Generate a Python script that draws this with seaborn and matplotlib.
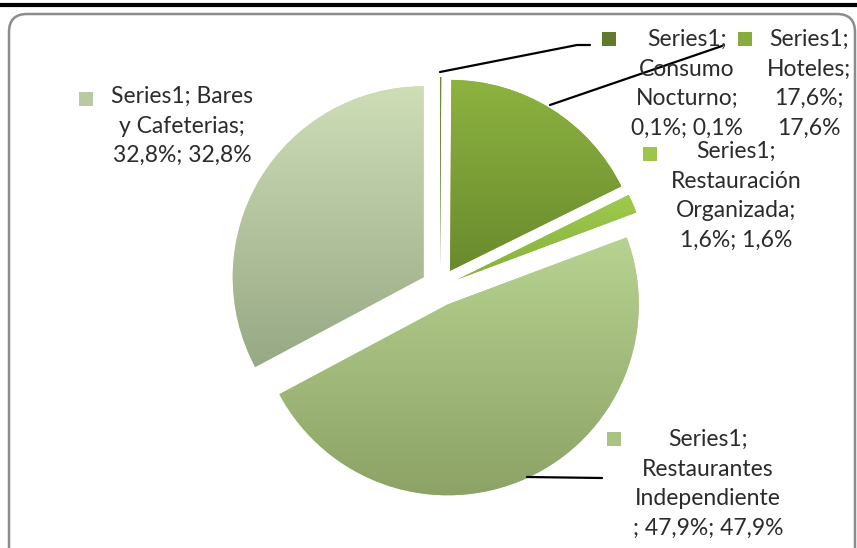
import numpy as np
import matplotlib
matplotlib.use("Agg")
import matplotlib.pyplot as plt
from matplotlib.colors import LinearSegmentedColormap
from matplotlib.patches import FancyBboxPatch
import seaborn as sns

sns.set_theme(style="white")
plt.rcParams['font.family'] = ['Lato', 'DejaVu Sans']

# ---- data ----
categories = ["Consumo Nocturno", "Hoteles", "Restauración Organizada",
              "Restaurantes Independiente", "Bares y Cafeterias"]
values = [0.1, 17.6, 1.6, 47.9, 32.8]
label_texts = [
    "Series1;\nConsumo\nNocturno;\n0,1%; 0,1%",
    "Series1;\nHoteles;\n17,6%;\n17,6%",
    "Series1;\nRestauración\nOrganizada;\n1,6%; 1,6%",
    "Series1;\nRestaurantes\nIndependiente\n; 47,9%; 47,9%",
    "Series1; Bares\ny Cafeterias;\n32,8%; 32,8%",
]
top_colors = ["#6f8f34", "#8db33f", "#9fcb4e", "#b8d391", "#cfdeb7"]
bot_colors = ["#5f7a2b", "#698a2d", "#86b03c", "#8ca266", "#96a884"]

W, H = 857, 548
fig = plt.figure(figsize=(W / 100, H / 100), dpi=100)
ax = fig.add_axes([0, 0, 1, 1])

center = (440, H - 287)
radius = 191
wedges, _ = ax.pie(values, startangle=90, counterclock=False,
                   explode=[19] * len(values), center=center, radius=radius,
                   colors=top_colors, wedgeprops=dict(linewidth=0))

# gradient fill per wedge
for w, c1, c2 in zip(wedges, top_colors, bot_colors):
    bb = w.get_path().get_extents(w.get_patch_transform())
    cmap = LinearSegmentedColormap.from_list("g", [c2, c1])
    grad = np.linspace(0, 1, 256).reshape(-1, 1)
    im = ax.imshow(grad, cmap=cmap, origin='lower', aspect='auto',
                   extent=[bb.x0 - 2, bb.x1 + 2, bb.y0 - 2, bb.y1 + 2],
                   zorder=2, interpolation='bilinear')
    im.set_clip_path(w)
ax.set_xlim(0, W)
ax.set_ylim(0, H)
ax.set_aspect('equal')
ax.axis('off')

def Y(y):
    return H - y

# labels (text blocks + legend keys)
label_pos = [(687, 40), (809, 40), (736, 152), (708, 440), (182, 97)]
marker_pos = [(609, 37), (745, 37), (650, 152), (614, 437), (86, 97)]
marker_cols = ["#62792e", "#86ac3c", "#9bc64a", "#a9c382", "#b9c9a2"]
for txt, (lx, ly), (mx, my), mc in zip(label_texts, label_pos, marker_pos, marker_cols):
    ax.text(lx, Y(ly) + 11, txt, ha='center', va='top', fontsize=16.5,
            color='#2b2b2b', linespacing=1.51, zorder=5)
    ax.scatter([mx], [Y(my) - 2], marker='s', s=90, color=mc, zorder=6,
               linewidths=0)

# leader lines
ax.plot([440, 577, 590], [Y(72), Y(45), Y(45)], color='black', lw=1.6, zorder=4)
ax.plot([550, 722], [Y(105), Y(46)], color='black', lw=1.6, zorder=4)
ax.plot([527, 602], [Y(477), Y(478)], color='black', lw=1.6, zorder=4)

# top black rule and rounded chart border
fig.add_artist(plt.Line2D([0, 1], [1 - 4.5 / H, 1 - 4.5 / H],
                          transform=fig.transFigure, color='black', lw=3))
border = FancyBboxPatch((9, -20), 846, H - 14 + 20,
                        boxstyle="round,pad=0,rounding_size=18",
                        fill=False, edgecolor='#8c8c8c', lw=1.8,
                        transform=ax.transData, zorder=1, clip_on=False)
ax.add_patch(border)

fig.savefig("out.png", dpi=100, facecolor='white')
